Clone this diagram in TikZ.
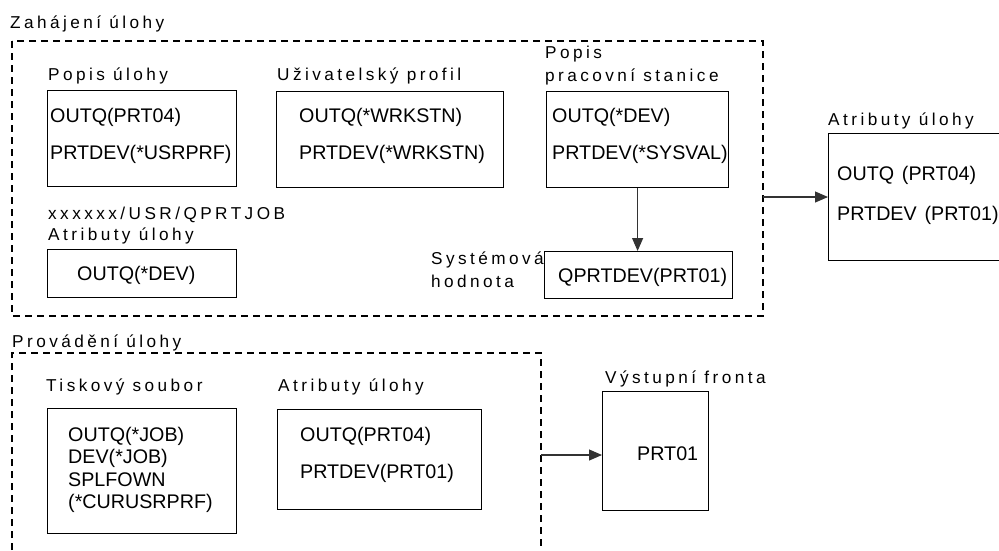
\documentclass[tikz,border=0pt]{standalone}
\usepackage{fontspec}
\setmainfont{Liberation Sans}
\newfontfamily\lblfont[LetterSpace=20]{Liberation Sans}
\usetikzlibrary{arrows.meta}
\tikzset{
  boxnode/.style={draw=black, line width=1.2pt, inner sep=0pt, anchor=north west, fill=white},
  txt/.style={inner sep=0pt, anchor=base west, font=\fontsize{19.7}{22.4}\selectfont},
  lbl/.style={inner sep=0pt, anchor=base west, font=\lblfont\fontsize{17.2}{20}\selectfont},
  region/.style={draw=black, line width=1.1pt, dash pattern=on 7pt off 5pt},
  conn/.style={draw=black!80, line width=1.1pt, -{Triangle[length=13pt,width=11pt]}}
}
\begin{document}
\begin{tikzpicture}[x=1pt,y=-1pt]
\useasboundingbox (0,0) rectangle (999,550);
\fill[white] (0,0) rectangle (999,550);

% ---- top region: Zahajeni ulohy
\node[lbl] (tZ) at (10,28) {Zahájení úlohy};
\draw[region] (12,41) rectangle (763,316);

% Popis ulohy
\node[lbl] (lPU) at (48,80) {Popis úlohy};
\node[boxnode, minimum width=189pt, minimum height=96pt] (bPU) at (47,90) {};
\node[txt] (tPU1) at (50,122) {OUTQ(PRT04)};
\node[txt] (tPU2) at (50,159) {PRTDEV(*USRPRF)};

% Uzivatelsky profil
\node[lbl] (lUP) at (277,80) {Uživatelský profil};
\node[boxnode, minimum width=227pt, minimum height=96pt] (bUP) at (276,91) {};
\node[txt] (tUP1) at (299,122) {OUTQ(*WRKSTN)};
\node[txt] (tUP2) at (299,159) {PRTDEV(*WRKSTN)};

% Popis pracovni stanice
\node[lbl] (lPS1) at (545,58) {Popis};
\node[lbl] (lPS2) at (545,81) {pracovní stanice};
\node[boxnode, minimum width=182pt, minimum height=96pt] (bPS) at (546,91) {};
\node[txt] (tPS1) at (552,122) {OUTQ(*DEV)};
\node[txt] (tPS2) at (552,159) {PRTDEV(*SYSVAL)};

% xxxxxx/USR/QPRTJOB
\node[lbl] (lQJ1) at (48,219) {xxxxxx/USR/QPRTJOB};
\node[lbl] (lQJ2) at (48,240) {Atributy úlohy};
\node[boxnode, minimum width=189pt, minimum height=48pt] (bQJ) at (47,249) {};
\node[txt] (tQJ) at (77,280) {OUTQ(*DEV)};

% Systemova hodnota
\node[lbl] (lSH1) at (431,264) {Systémová};
\node[lbl] (lSH2) at (431,287) {hodnota};
\node[boxnode, minimum width=188pt, minimum height=47pt] (bSH) at (544,251) {};
\node[txt] (tSH) at (558,282) {QPRTDEV(PRT01)};

\draw[conn] (bPS.south) -- (bPS.south |- bSH.north);

% Atributy ulohy (result)
\node[lbl] (lAU) at (828,125) {Atributy úlohy};
\node[boxnode, minimum width=176pt, minimum height=127pt] (bAU) at (828,133) {};
\node[txt] (tAU1) at (837,180) {OUTQ\hspace{0.4em}(PRT04)};
\node[txt] (tAU2) at (837,220) {PRTDEV\hspace{0.4em}(PRT01)};

\coordinate (e1) at (763,197);
\draw[conn] (e1) -- (e1 -| bAU.west);

% ---- bottom region: Provadeni ulohy
\node[lbl] (tP) at (12,347) {Provádění úlohy};
\draw[region] (12,550) -- (12,353) -- (541,353) -- (541,550);

% Tiskovy soubor
\node[lbl] (lTS) at (46,391) {Tiskový soubor};
\node[boxnode, minimum width=189pt, minimum height=125pt] (bTS) at (47,408) {};
\node[txt] (tTS1) at (68,441) {OUTQ(*JOB)};
\node[txt] (tTS2) at (68,463) {DEV(*JOB)};
\node[txt] (tTS3) at (68,486) {SPLFOWN};
\node[txt] (tTS4) at (68,508) {(*CURUSRPRF)};

% Atributy ulohy
\node[lbl] (lAB) at (278,391) {Atributy úlohy};
\node[boxnode, minimum width=204pt, minimum height=100pt] (bAB) at (277,409) {};
\node[txt] (tAB1) at (300,441) {OUTQ(PRT04)};
\node[txt] (tAB2) at (300,478) {PRTDEV(PRT01)};

% Vystupni fronta
\node[lbl] (lVF) at (605,383) {Výstupní fronta};
\node[boxnode, minimum width=106pt, minimum height=119pt] (bVF) at (602,391) {};
\node[txt] (tVF) at (637,460) {PRT01};

\coordinate (e2) at (541,455);
\draw[conn] (e2) -- (e2 -| bVF.west);
\end{tikzpicture}
\end{document}
